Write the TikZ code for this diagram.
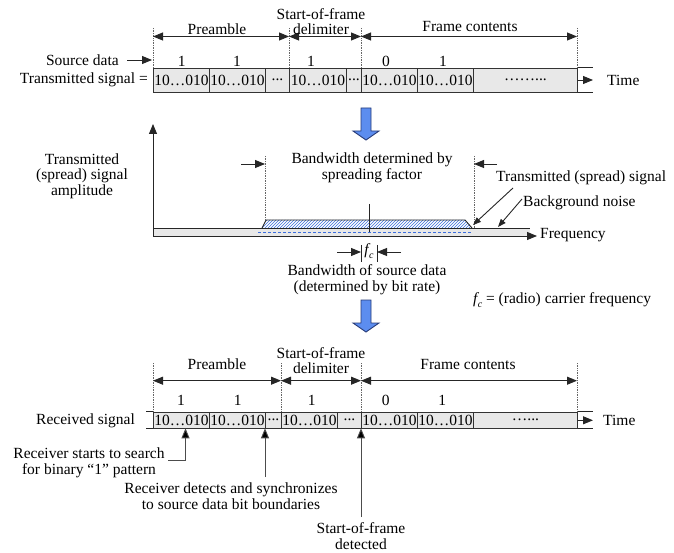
\documentclass[tikz,border=0pt]{standalone}
\usepackage{fontspec}
\setmainfont{Liberation Serif}
\usetikzlibrary{arrows.meta,patterns}
\definecolor{bluefill}{RGB}{92,141,239}
\definecolor{blueline}{RGB}{40,60,120}
\definecolor{cellgray}{RGB}{232,232,232}
\definecolor{hatchblue}{RGB}{60,110,220}
\begin{document}
\begin{tikzpicture}[x=1pt,y=-1pt,
  every node/.style={font=\fontsize{15.5}{15.7}\selectfont, inner sep=0pt, align=center},
  tri/.style={-{Triangle[length=10pt,width=8pt]}},
  stri/.style={-{Triangle[length=8pt,width=6pt]}},
  dtri/.style={{Triangle[length=10pt,width=8pt]}-{Triangle[length=10pt,width=8pt]}},
  dotv/.style={densely dotted, line width=0.7pt, black!60},
  cellT/.style={draw=black!80, line width=0.9pt, fill=cellgray, minimum height=24pt, anchor=west},
  cellB/.style={draw=black!80, line width=0.9pt, fill=cellgray, minimum height=16pt, anchor=west},
  blk/.style={line width=0.9pt, black!85},
  ptr/.style={line width=0.9pt, black!70, -{Triangle[length=10pt,width=8pt,fill=black]}},
  bigarrow/.style={fill=bluefill, draw=blueline, line width=0.9pt}
]
\useasboundingbox (0,0) rectangle (674,553);

% ================= TOP: transmitted signal =================
\foreach \x/\n in {153/a,289/b,361/c,577/d}{
  \coordinate (tt\n) at (\x,28);
  \coordinate (tb\n) at (\x,68);
  \draw[dotv] (tt\n) -- (tb\n);
  \coordinate (ta\n) at (\x,36.5);
}
\draw[dtri, blk] (taa) -- (tab);
\draw[dtri, blk] (tab) -- (tac);
\draw[dtri, blk] (tac) -- (tad);
\node (tpre) at (217,29) {Preamble};
\node (tsfd) at (321,21.5) {Start-of-frame\\delimiter};
\node (tfc) at (470,27) {Frame contents};

\node[anchor=east] (tsrc) at (119,60) {Source data};
\coordinate (tsrcA) at (127,60);
\coordinate (tsrcB) at (152,60);
\draw[tri, blk] (tsrcA) -- (tsrcB);
\node (td1) at (181.7,61) {1};
\node (td2) at (237,61) {1};
\node (td3) at (311,61) {1};
\node (td4) at (386,61) {0};
\node (td5) at (443,61) {1};

\node[anchor=east] (tts) at (148,80) {Transmitted signal =};
\node[cellT, minimum width=56pt] (t1) at (153,80) {10…010};
\node[cellT, minimum width=56pt] (t2) at (209,80) {10…010};
\node[cellT, minimum width=24pt] (t3) at (265,80) {...};
\node[cellT, minimum width=57pt] (t4) at (289,80) {10…010};
\node[cellT, minimum width=15pt] (t5) at (346,80) {...};
\node[cellT, minimum width=56pt] (t6) at (361,80) {10…010};
\node[cellT, minimum width=56pt] (t7) at (417,80) {10…010};
\node[cellT, minimum width=104pt] (t8) at (473,80) {……...};
\coordinate (tend) at (593,80);
\draw[blk] (t8.north east) -- (t8.north east -| tend);
\draw[blk] (t8.south east) -- (t8.south east -| tend);
\draw[tri, blk] (t8.east) -- (tend);
\node[anchor=west] (ttime) at (607,80) {Time};

% blue arrow 1
\draw[bigarrow] (361,108) -- (371,108) -- (371,131) -- (379,131) -- (366,140) -- (353,131) -- (361,131) -- cycle;

% ================= MIDDLE: spectrum =================
\fill[cellgray] (153,228) rectangle (530,236);
\draw[blk] (153,228) -- (530,228);
\coordinate (org) at (153,236);
\coordinate (yax) at (153,124);
\coordinate (xax) at (537,236);
\draw[tri, blk] (org) -- (yax);
\draw[tri, blk] (org) -- (xax);
\node[anchor=west] (freq) at (540,235) {Frequency};
\draw[densely dashed, hatchblue, line width=0.6pt] (258,232) -- (472,232);
\fill[white] (262,228) -- (266,220) -- (465,220) -- (472,228) -- cycle;
\fill[pattern=north east lines, pattern color=hatchblue] (262,228) -- (266,220) -- (465,220) -- (472,228) -- cycle;
\draw[blk] (262,228) -- (266,220) -- (465,220) -- (472,228);
\draw[blk] (369,204) -- (369,232);

\node (amp) at (82,176) {Transmitted\\(spread) signal\\amplitude};

\coordinate (bwlT) at (265,156); \coordinate (bwlB) at (265,220);
\coordinate (bwrT) at (474,156); \coordinate (bwrB) at (474,228);
\draw[dotv] (bwlT) -- (bwlB);
\draw[dotv] (bwrT) -- (bwrB);
\coordinate (bwlA) at (241,164); \coordinate (bwlH) at (265,164);
\coordinate (bwrA) at (497,164); \coordinate (bwrH) at (474,164);
\draw[tri, blk] (bwlA) -- (bwlH);
\draw[tri, blk] (bwrA) -- (bwrH);
\node (bwlab) at (372,168) {Bandwidth determined by\\spreading factor};

\node[anchor=west] (tsig) at (496,178) {Transmitted (spread) signal};
\coordinate (tsigA) at (513,188);
\coordinate (tsigB) at (473,225);
\draw[stri, blk] (tsigA) -- (tsigB);
\node[anchor=west] (bgn) at (523,203) {Background noise};
\coordinate (bgnA) at (522,199);
\coordinate (bgnB) at (498,227);
\draw[stri, blk] (bgnA) -- (bgnB);

\draw[blk] (361,245) -- (361,262);
\draw[blk] (377,245) -- (377,262);
\coordinate (fcl) at (337,252); \coordinate (fclH) at (361,252);
\coordinate (fcr) at (401,252); \coordinate (fcrH) at (377,252);
\draw[tri, blk] (fcl) -- (fclH);
\draw[tri, blk] (fcr) -- (fcrH);
\node (fc) at (369,251) {\itshape f\kern0.3pt\raisebox{-3.5pt}{\fontsize{10}{10}\selectfont c}};
\node (srcbw) at (367,280) {Bandwidth of source data\\(determined by bit rate)};
\node[anchor=west] (fcdef) at (473,300) {\itshape f\kern0.3pt\raisebox{-3.5pt}{\fontsize{10}{10}\selectfont c}\upshape\ = (radio) carrier frequency};

% blue arrow 2
\draw[bigarrow] (361,300) -- (371,300) -- (371,323) -- (379,323) -- (366,332) -- (353,323) -- (361,323) -- cycle;

% ================= BOTTOM: received signal =================
\foreach \x/\n in {153/a,281/b,361/c,577/d}{
  \coordinate (bt\n) at (\x,363);
  \coordinate (bb\n) at (\x,412);
  \draw[dotv] (bt\n) -- (bb\n);
  \coordinate (ba\n) at (\x,380.7);
}
\draw[dtri, blk] (baa) -- (bab);
\draw[dtri, blk] (bab) -- (bac);
\draw[dtri, blk] (bac) -- (bad);
\node (bpre) at (217,364) {Preamble};
\node (bsfd) at (321,360.5) {Start-of-frame\\delimiter};
\node (bfc) at (468,364) {Frame contents};

\node (bd1) at (181,400.7) {1};
\node (bd2) at (237.7,400.7) {1};
\node (bd3) at (311.7,400.7) {1};
\node (bd4) at (385.7,400.7) {0};
\node (bd5) at (442.3,400.7) {1};

\node[anchor=east] (brs) at (135,420.5) {Received signal};
\node[cellB, minimum width=56pt] (b1) at (153,420.3) {10…010};
\node[cellB, minimum width=56pt] (b2) at (209,420.3) {10…010};
\node[cellB, minimum width=16pt] (b3) at (265,420.3) {...};
\node[cellB, minimum width=56pt] (b4) at (281,420.3) {10…010};
\node[cellB, minimum width=24pt] (b5) at (337,420.3) {...};
\node[cellB, minimum width=56pt] (b6) at (361,420.3) {10…010};
\node[cellB, minimum width=56pt] (b7) at (417,420.3) {10…010};
\node[cellB, minimum width=104pt] (b8) at (473,420.3) {…...};
\coordinate (bstart) at (146,420.3);
\coordinate (bend) at (593,420.3);
\draw[blk] (b1.north west) -- (b1.north west -| bstart);
\draw[blk] (b1.south west) -- (b1.south west -| bstart);
\draw[blk] (b8.north east) -- (b8.north east -| bend);
\draw[blk] (b8.south east) -- (b8.south east -| bend);
\draw[tri, blk] (b8.east) -- (bend);
\node[anchor=west] (btime) at (603,420.3) {Time};

% pointers
\node (p1) at (89,463) {Receiver starts to search\\for binary “1” pattern};
\coordinate (p1a) at (168,460);
\coordinate (p1b) at (185.5,460);
\coordinate (p1c) at (185.5,428.3);
\draw[ptr] (p1a) -- (p1b) -- (p1c);

\node (p2) at (231,496) {Receiver detects and synchronizes\\to source data bit boundaries};
\coordinate (p2a) at (265,477);
\coordinate (p2b) at (265,428.3);
\draw[ptr] (p2a) -- (p2b);

\node (p3) at (361,536) {Start-of-frame\\detected};
\coordinate (p3a) at (361,517);
\coordinate (p3b) at (361,428.3);
\draw[ptr] (p3a) -- (p3b);
\end{tikzpicture}
\end{document}
